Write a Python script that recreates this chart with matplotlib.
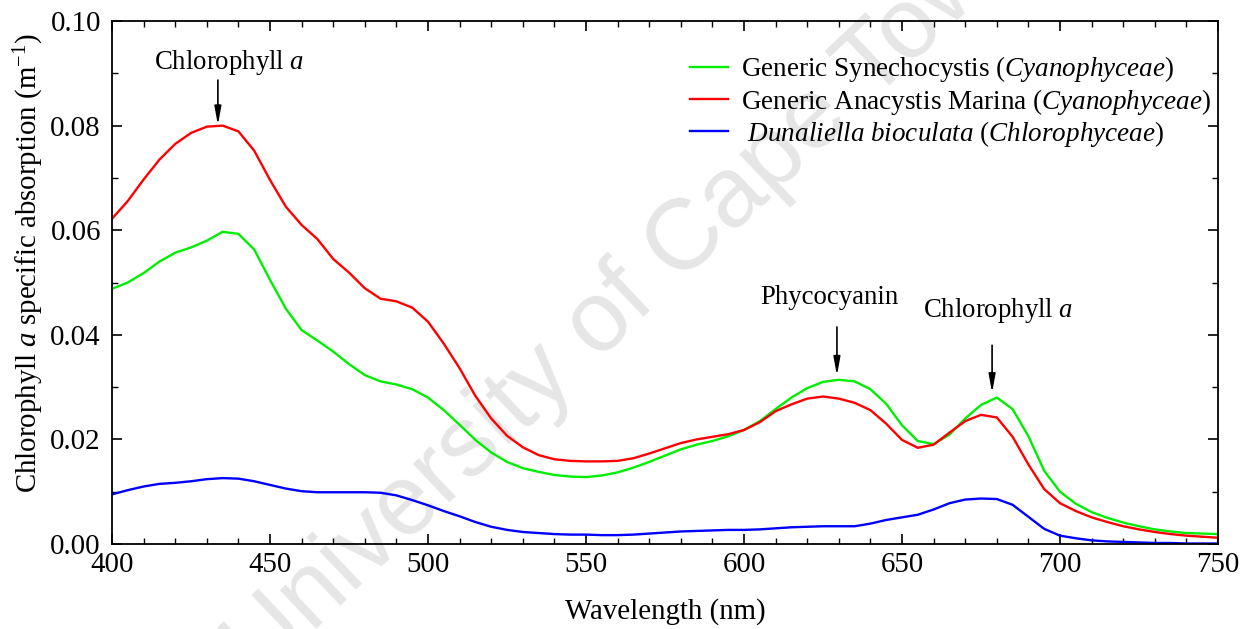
import matplotlib
matplotlib.use("Agg")
import matplotlib.pyplot as plt
import numpy as np

plt.rcParams['font.family'] = ['Liberation Serif', 'DejaVu Serif']
plt.rcParams['mathtext.fontset'] = 'custom'
plt.rcParams['mathtext.rm'] = 'Liberation Serif'
plt.rcParams['mathtext.it'] = 'Liberation Serif:italic'

# wavelengths every 5 nm
wavelength = np.arange(400, 755, 5)

# Generic Synechocystis
synechocystis = [
    0.0488, 0.0500, 0.0518, 0.0540, 0.0557, 0.0567, 0.0580, 0.0597, 0.0593, 0.0563,
    0.0505, 0.0450, 0.0409, 0.0389, 0.0368, 0.0344, 0.0323, 0.0311, 0.0305, 0.0296,
    0.0280, 0.0256, 0.0228, 0.0199, 0.0175, 0.0157, 0.0145, 0.0138, 0.0132, 0.0129,
    0.0128, 0.0131, 0.0137, 0.0146, 0.0157, 0.0169, 0.0181, 0.0190, 0.0197, 0.0206,
    0.0218, 0.0235, 0.0258, 0.0280, 0.0298, 0.0310, 0.0314, 0.0311, 0.0296, 0.0268,
    0.0227, 0.0197, 0.0191, 0.0209, 0.0240, 0.0266, 0.0280, 0.0258, 0.0206, 0.0140,
    0.0100, 0.0077, 0.0061, 0.0050, 0.0041, 0.0034, 0.0028, 0.0024, 0.0021, 0.0020,
    0.0019]

# Generic Anacystis Marina
anacystis = [
    0.0622, 0.0656, 0.0697, 0.0735, 0.0765, 0.0786, 0.0798, 0.0800, 0.0789, 0.0752,
    0.0696, 0.0645, 0.0610, 0.0583, 0.0545, 0.0519, 0.0489, 0.0469, 0.0464, 0.0452,
    0.0425, 0.0383, 0.0336, 0.0283, 0.0240, 0.0207, 0.0185, 0.0170, 0.0162, 0.0159,
    0.0158, 0.0158, 0.0159, 0.0164, 0.0173, 0.0183, 0.0193, 0.0200, 0.0205, 0.0210,
    0.0218, 0.0233, 0.0254, 0.0267, 0.0278, 0.0282, 0.0278, 0.0270, 0.0256, 0.0230,
    0.0199, 0.0184, 0.0190, 0.0213, 0.0235, 0.0247, 0.0242, 0.0205, 0.0152, 0.0105,
    0.0078, 0.0063, 0.0051, 0.0042, 0.0034, 0.0028, 0.0023, 0.0019, 0.0016, 0.0014,
    0.0012]

# Dunaliella bioculata
dunaliella = [
    0.0095, 0.0103, 0.0110, 0.0115, 0.0117, 0.0120, 0.0124, 0.0126, 0.0125, 0.0120,
    0.0113, 0.0106, 0.0101, 0.0099, 0.0099, 0.0099, 0.0099, 0.0098, 0.0093, 0.0084,
    0.0074, 0.0063, 0.0053, 0.0042, 0.0033, 0.0027, 0.0023, 0.0021, 0.0019, 0.0018,
    0.0018, 0.0017, 0.0017, 0.0018, 0.0020, 0.0022, 0.0024, 0.0025, 0.0026, 0.0027,
    0.0027, 0.0028, 0.0030, 0.0032, 0.0033, 0.0034, 0.0034, 0.0034, 0.0039, 0.0046,
    0.0051, 0.0056, 0.0066, 0.0078, 0.0085, 0.0087, 0.0086, 0.0075, 0.0052, 0.0029,
    0.0016, 0.0011, 0.0007, 0.0005, 0.0004, 0.0003, 0.0002, 0.0002, 0.0001, 0.0001,
    0.0001]

labels = [r'Generic Synechocystis ($\mathit{Cyanophyceae}$)',
          r'Generic Anacystis Marina ($\mathit{Cyanophyceae}$)',
          r' $\mathit{Dunaliella\ bioculata}$ ($\mathit{Chlorophyceae}$)']

# peak annotations: label, label position, arrow wavelength, arrow top and tip
peak_names = [r'Chlorophyll $\mathit{a}$', 'Phycocyanin', r'Chlorophyll $\mathit{a}$']
peak_text_x = [437.0, 627.0, 680.5]
peak_text_y = [0.0893, 0.0447, 0.0419]
peak_wl = [433.5, 629.4, 678.5]
arrow_top = [0.0887, 0.0415, 0.0380]
arrow_tip = [0.0801, 0.0322, 0.0289]

fig = plt.figure(figsize=(12.49, 6.29), dpi=100)
ax = fig.add_axes([0.0897, 0.1351, 0.8855, 0.8315])
ax.set_zorder(2)
ax.set_facecolor('none')

# faint watermark behind the plot
fig.text(0.506, 0.534, 'University of Cape Town', fontsize=72, family='Liberation Sans',
         color='#e6e6e6', rotation=43.5, ha='center', va='center', zorder=0)

ax.plot(wavelength, synechocystis, color='#00ee00', lw=1.7, label=labels[0])
ax.plot(wavelength, anacystis, color='#ff0000', lw=1.7, label=labels[1])
ax.plot(wavelength, dunaliella, color='#0000ff', lw=1.7, label=labels[2])

for name, tx, ty, wl, top, tip in zip(peak_names, peak_text_x, peak_text_y,
                                      peak_wl, arrow_top, arrow_tip):
    ax.text(tx, ty, name, fontsize=19.3, ha='center', va='bottom')
    ax.annotate('', xy=(wl, tip), xytext=(wl, top),
                arrowprops=dict(arrowstyle='-|>,head_length=1.1,head_width=0.2',
                                color='black', lw=1.2, shrinkA=0, shrinkB=0))

ax.set_xlim(400, 750)
ax.set_ylim(0, 0.10)
ax.set_xticks(np.arange(400, 751, 50))
ax.set_xticks(np.arange(400, 751, 10), minor=True)
ax.set_yticks(np.arange(0, 0.101, 0.02))
ax.set_yticks(np.arange(0, 0.101, 0.01), minor=True)
ax.set_yticklabels(['%.2f' % v for v in np.arange(0, 0.101, 0.02)])
ax.tick_params(which='both', direction='in', top=True, right=True, labelsize=20.8)
ax.tick_params(which='major', length=7, width=1.2)
ax.tick_params(which='minor', length=4, width=1.0)
ax.tick_params(axis='x', pad=6)
ax.tick_params(axis='y', pad=8)
for s in ax.spines.values():
    s.set_linewidth(1.3)

ax.set_xlabel('Wavelength (nm)', fontsize=20.8, labelpad=14)
ax.set_ylabel(r'Chlorophyll $\mathit{a}$ specific absorption (m$^{-1}$)', fontsize=20.8)
ax.yaxis.set_label_coords(-0.0595, 0.537)

ax.legend(loc='upper left', bbox_to_anchor=(0.5226, 0.936), frameon=False, fontsize=19.5,
          handlelength=1.4, handletextpad=0.5, labelspacing=0.08,
          borderpad=0, borderaxespad=0)

fig.savefig('out.png', dpi=100)
